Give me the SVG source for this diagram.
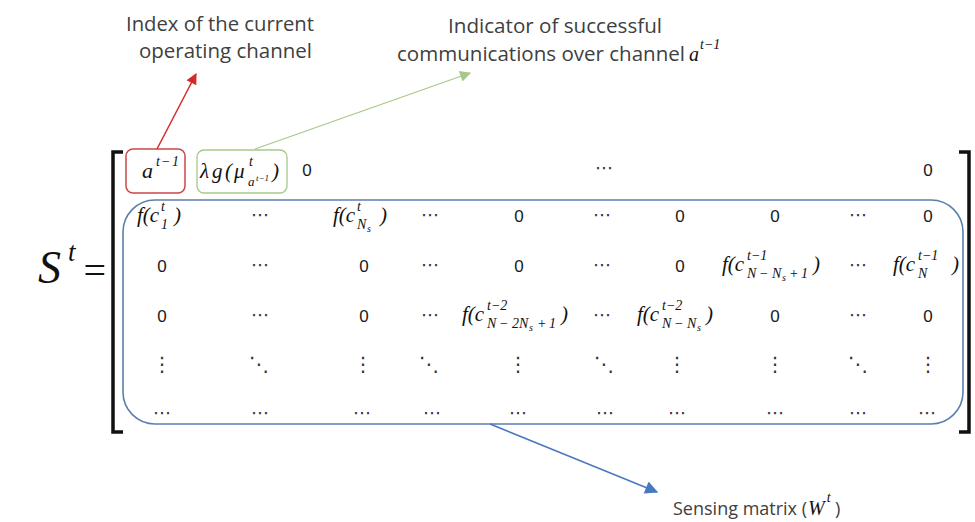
<svg xmlns="http://www.w3.org/2000/svg" width="975" height="522" viewBox="0 0 975 522">
<style>
.m{font-family:"Liberation Serif",serif;font-style:italic;font-size:21px;fill:#111}
.s{font-size:14px}
.ss{font-size:10px}
.z{font-family:"Liberation Sans",sans-serif;font-size:17px;fill:#1a1a1a;text-anchor:middle}
.d{font-family:"DejaVu Sans",sans-serif;font-size:18px;fill:#333;text-anchor:middle}
.v{font-family:"DejaVu Sans",sans-serif;font-size:20px;fill:#333;text-anchor:middle}
.lbl{font-family:"Open Sans",sans-serif;font-size:20px;fill:#404040}
</style>
<defs>
<marker id="ah-red" viewBox="0 0 10 10" refX="9" refY="5" markerWidth="13" markerHeight="11" markerUnits="userSpaceOnUse" orient="auto"><path d="M0,0 L10,5 L0,10 z" fill="#d42a2a"/></marker>
<marker id="ah-green" viewBox="0 0 10 10" refX="9" refY="5" markerWidth="13" markerHeight="11" markerUnits="userSpaceOnUse" orient="auto"><path d="M0,0 L10,5 L0,10 z" fill="#a6c98a"/></marker>
<marker id="ah-blue" viewBox="0 0 10 10" refX="9" refY="5" markerWidth="15" markerHeight="13" markerUnits="userSpaceOnUse" orient="auto"><path d="M0,0 L10,5 L0,10 z" fill="#4a78c0"/></marker>
</defs>
<rect width="975" height="522" fill="#ffffff"/>

<g id="lhs">
<text class="m" x="38" y="283" style="font-size:46px">S</text>
<text class="m" x="68" y="261" style="font-size:27px">t</text>
<text x="106" y="284" style="font-family:'Liberation Serif',serif;font-size:40px;fill:#111;text-anchor:end">=</text>
</g>

<g id="brackets" fill="none" stroke="#111" stroke-width="3.5">
<path d="M123,152 L113,152 L113,432 L123,432"/>
<path d="M959,152 L969,152 L969,432 L959,432"/>
</g>

<g id="box-a">
<rect x="126" y="149" width="59" height="44" rx="7" fill="none" stroke="#c9484c" stroke-width="1.5"/>
<text class="m" x="142" y="178" style="font-size:22px">a</text>
<text class="m s" x="156" y="166">t</text><text class="m s" x="161" y="166">−</text><text class="m s" x="172" y="166">1</text>
</g>
<g id="box-g">
<rect x="197" y="150" width="90" height="43" rx="7" fill="none" stroke="#a6c98a" stroke-width="1.3"/>
<text class="m" x="200" y="178">λ</text>
<text class="m" x="212" y="178">g</text>
<text class="m" x="225" y="178">(</text>
<text class="m" x="234" y="178">μ</text>
<text class="m s" x="249" y="166">t</text>
<text class="m" x="248" y="186" style="font-size:13px">a</text>
<text class="m" x="256" y="181" style="font-size:9px">t−1</text>
<text class="m" x="272" y="178">)</text>
</g>

<g id="row1">
<text class="z" x="307" y="176">0</text>
<text class="d" x="604" y="174">⋯</text>
<text class="z" x="928" y="176">0</text>
</g>

<g id="box-w">
<rect x="123" y="200" width="840" height="224" rx="32" fill="none" stroke="#5b7fae" stroke-width="1.6"/>
<text class="m" x="137" y="222">f(c</text>
<text class="m s" x="161" y="211">t</text>
<text class="m s" x="161" y="229">1</text>
<text class="m" x="174" y="222">)</text>
<text class="d" x="260" y="221">⋯</text>
<text class="m" x="333" y="222">f(c</text>
<text class="m s" x="357" y="211">t</text>
<text class="m s" x="357" y="229">N</text>
<text class="m ss" x="367" y="232">s</text>
<text class="m" x="380" y="222">)</text>
<text class="d" x="430" y="221">⋯</text>
<text class="z" x="519" y="222">0</text>
<text class="d" x="602" y="221">⋯</text>
<text class="z" x="680" y="222">0</text>
<text class="z" x="775" y="222">0</text>
<text class="d" x="858" y="221">⋯</text>
<text class="z" x="928" y="222">0</text>

<text class="z" x="162" y="272">0</text>
<text class="d" x="260" y="271">⋯</text>
<text class="z" x="364" y="272">0</text>
<text class="d" x="430" y="271">⋯</text>
<text class="z" x="519" y="272">0</text>
<text class="d" x="602" y="271">⋯</text>
<text class="z" x="680" y="272">0</text>
<text class="m" x="722" y="271">f(c</text>
<text class="m s" x="747" y="260">t−1</text>
<text class="m s" x="747" y="278">N</text><text class="m s" x="759" y="278">−</text><text class="m s" x="772" y="278">N</text>
<text class="m ss" x="782" y="281">s</text>
<text class="m s" x="789" y="278">+</text><text class="m s" x="801" y="278">1</text>
<text class="m" x="813" y="271">)</text>
<text class="d" x="858" y="271">⋯</text>
<text class="m" x="893" y="271">f(c</text>
<text class="m s" x="918" y="260">t−1</text>
<text class="m s" x="918" y="278">N</text>
<text class="m" x="952" y="271">)</text>

<text class="z" x="162" y="322">0</text>
<text class="d" x="260" y="321">⋯</text>
<text class="z" x="364" y="322">0</text>
<text class="d" x="430" y="321">⋯</text>
<text class="m" x="462" y="321">f(c</text>
<text class="m s" x="487" y="310">t−2</text>
<text class="m s" x="487" y="328">N</text><text class="m s" x="499" y="328">−</text><text class="m s" x="512" y="328">2N</text>
<text class="m ss" x="529" y="331">s</text>
<text class="m s" x="537" y="328">+</text><text class="m s" x="549" y="328">1</text>
<text class="m" x="561" y="321">)</text>
<text class="d" x="602" y="321">⋯</text>
<text class="m" x="637" y="321">f(c</text>
<text class="m s" x="662" y="310">t−2</text>
<text class="m s" x="662" y="328">N</text><text class="m s" x="674" y="328">−</text><text class="m s" x="687" y="328">N</text>
<text class="m ss" x="697" y="331">s</text>
<text class="m" x="706" y="321">)</text>
<text class="z" x="775" y="322">0</text>
<text class="d" x="858" y="321">⋯</text>
<text class="z" x="928" y="322">0</text>

<text class="v" x="162" y="371">⋮</text>
<text class="v" x="259" y="371">⋱</text>
<text class="v" x="363" y="371">⋮</text>
<text class="v" x="429" y="371">⋱</text>
<text class="v" x="518" y="371">⋮</text>
<text class="v" x="604" y="371">⋱</text>
<text class="v" x="677" y="371">⋮</text>
<text class="v" x="775" y="371">⋮</text>
<text class="v" x="858" y="371">⋱</text>
<text class="v" x="928" y="371">⋮</text>

<text class="d" x="162" y="419">⋯</text>
<text class="d" x="260" y="419">⋯</text>
<text class="d" x="362" y="419">⋯</text>
<text class="d" x="432" y="419">⋯</text>
<text class="d" x="518" y="419">⋯</text>
<text class="d" x="605" y="419">⋯</text>
<text class="d" x="677" y="419">⋯</text>
<text class="d" x="775" y="419">⋯</text>
<text class="d" x="858" y="419">⋯</text>
<text class="d" x="927" y="419">⋯</text>
</g>

<g id="label-index">
<text class="lbl" x="126" y="31" textLength="188" lengthAdjust="spacingAndGlyphs">Index of the current</text>
<text class="lbl" x="139" y="58" textLength="173" lengthAdjust="spacingAndGlyphs">operating channel</text>
</g>
<g id="label-indicator">
<text class="lbl" x="448" y="33" textLength="214" lengthAdjust="spacingAndGlyphs">Indicator of successful</text>
<text class="lbl" x="397" y="61" textLength="288" lengthAdjust="spacingAndGlyphs">communications over channel</text>
<text class="m" x="689" y="61" style="font-size:20px">a<tspan class="s" dx="1" dy="-12">t−1</tspan></text>
</g>
<g id="label-sensing">
<text class="lbl" x="673" y="515" style="font-size:18px">Sensing matrix (</text>
<text class="m" x="808" y="515" style="font-size:20px">W<tspan class="s" dx="2" dy="-13">t</tspan></text>
<text class="lbl" x="835" y="515" style="font-size:18px">)</text>
</g>

<g id="connectors" fill="none">
<line x1="157" y1="149" x2="196" y2="74" stroke="#d42a2a" stroke-width="1.5" marker-end="url(#ah-red)"/>
<line x1="255" y1="149" x2="470" y2="73" stroke="#a6c98a" stroke-width="1.3" marker-end="url(#ah-green)"/>
<line x1="490" y1="424" x2="657" y2="492" stroke="#4a78c0" stroke-width="1.5" marker-end="url(#ah-blue)"/>
</g>
</svg>
